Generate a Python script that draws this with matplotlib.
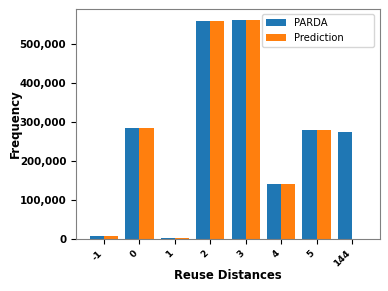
import matplotlib
matplotlib.use("Agg")
import matplotlib.pyplot as plt
import numpy as np

categories = ["-1", "0", "1", "2", "3", "4", "5", "144"]
parda = [7700, 286000, 1700, 560800, 562500, 140400, 279100, 274000]
prediction = [7700, 286000, 1700, 560800, 562500, 140400, 279100, 0]

fig = plt.figure(figsize=(3.88, 2.91), dpi=100)
ax = fig.add_axes([76/388, 1-239/291, (380-76)/388, (239-9)/291])
x = np.arange(len(categories))
ax.bar(x, parda, width=-0.4, align="edge", color="#1f77b4", label="PARDA")
ax.bar(x, prediction, width=0.4, align="edge", color="#ff7f0e", label="Prediction")
ax.set_xticks(x)
ax.set_xticklabels(categories, rotation=45, ha="right", fontweight="bold", fontsize=6.5)
ax.yaxis.set_major_formatter(matplotlib.ticker.FuncFormatter(lambda v, p: f"{int(v):,}"))
ax.tick_params(axis="y", labelsize=7.4)
plt.setp(ax.get_yticklabels(), fontweight="bold")
ax.set_xlabel("Reuse Distances", fontweight="bold", fontsize=8.4, labelpad=0)
ax.set_ylabel("Frequency", fontweight="bold", fontsize=8.5, labelpad=-2)
for s in ax.spines.values():
    s.set_color("#808080")
ax.legend(loc="upper left", bbox_to_anchor=(0.613, 0.3, 0.367, 0.678), mode="expand",
          borderaxespad=0, fontsize=7.2)
fig.savefig("out.png", dpi=100)
